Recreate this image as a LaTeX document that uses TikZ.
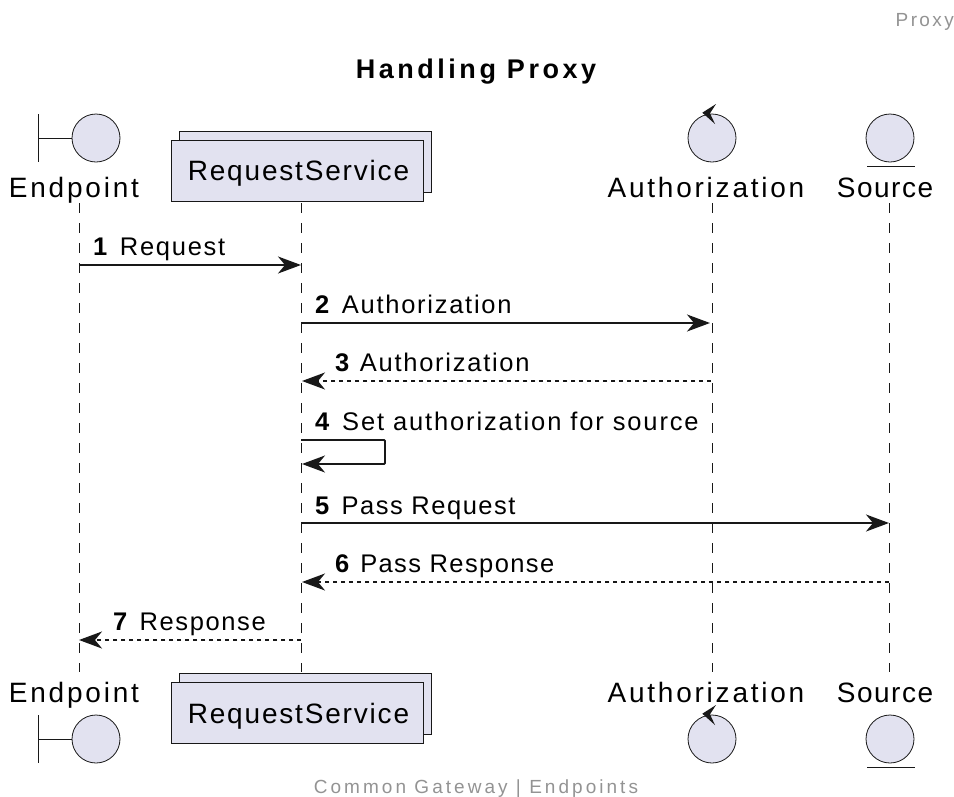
\documentclass[tikz,border=0pt]{standalone}
\usepackage{fontspec}
\setmainfont{Liberation Sans}
\usetikzlibrary{arrows.meta}
\definecolor{partfill}{HTML}{E2E2F0}
\definecolor{partline}{HTML}{181818}
\tikzset{
    headcircle/.style={circle,draw=partline,fill=partfill,line width=0.8pt,minimum size=48pt,inner sep=0pt},
    stackbox/.style={rectangle,draw=partline,fill=partfill,line width=0.8pt,minimum width=252pt,minimum height=61pt,inner sep=0pt},
    partname/.style={anchor=base,inner sep=0pt,font=\fontsize{28}{32}\selectfont\addfontfeature{LetterSpace=#1}},
    msgtext/.style={anchor=base west,inner sep=0pt,font=\fontsize{25.5}{29}\selectfont\addfontfeature{LetterSpace=#1}},
    greytext/.style={inner sep=0pt,text=gray!85,font=\fontsize{19}{22}\selectfont\addfontfeature{LetterSpace=#1}},
    lifeline/.style={partline,line width=0.7pt,dash pattern=on 10pt off 10pt},
    callarrow/.style={partline,line width=1.9pt,-{Stealth[length=23pt,width=17pt,inset=7pt]}},
    backarrow/.style={callarrow,dash pattern=on 4pt off 4pt},
}
\begin{document}
\begin{tikzpicture}[x=1pt,y=-1pt]
        \useasboundingbox (0,0) rectangle (954,796);

        % Texts around the diagram
        \node[greytext=12.5,anchor=base east] (tag) at (954,26) {Proxy};
        \node[anchor=base,inner sep=0pt,font=\fontsize{27}{30}\selectfont\bfseries\addfontfeature{LetterSpace=13}] (title) at (476,78) {Handling Proxy};
        \node[greytext=16,anchor=base] (foot) at (476,793) {Common Gateway | Endpoints};

        % Lifelines
        \coordinate (ep1) at (79,203);
        \coordinate (ep2) at (79,672);
        \coordinate (rs1) at (301,203);
        \coordinate (rs2) at (301,672);
        \coordinate (au1) at (712,203);
        \coordinate (au2) at (712,672);
        \coordinate (so1) at (889,203);
        \coordinate (so2) at (889,672);
        \draw[lifeline] (ep1) -- (ep2);
        \draw[lifeline] (rs1) -- (rs2);
        \draw[lifeline] (au1) -- (au2);
        \draw[lifeline] (so1) -- (so2);

        % Endpoint
        \node[headcircle] (epT) at (96,138) {};
        \coordinate (epTbar) at (38,138);
        \draw[partline,line width=0.8pt] (38,114) -- (38,162);
        \draw[partline,line width=0.8pt] (epTbar) -- (epT);
        \node[partname=10] (epTname) at (74,197) {Endpoint};
        \node[partname=10] (epBname) at (74,702) {Endpoint};
        \node[headcircle] (epB) at (96,739) {};
        \coordinate (epBbar) at (38,739);
        \draw[partline,line width=0.8pt] (38,715) -- (38,763);
        \draw[partline,line width=0.8pt] (epBbar) -- (epB);

        % RequestService
        \node[stackbox] (rsTback) at (305,161.5) {};
        \node[stackbox] (rsT) at (297,170.5) {};
        \node[partname=6.5] (rsTname) at (298.5,180) {RequestService};
        \node[stackbox] (rsBback) at (305,703.5) {};
        \node[stackbox] (rsB) at (297,712.5) {};
        \node[partname=6.5] (rsBname) at (298.5,723) {RequestService};

        % Authorization
        \node[headcircle] (auT) at (712,138) {};
        \fill[partline] (702.3,112.7) -- (716,104) -- (710,113.3) -- (715,124) -- cycle;
        \node[partname=9.9] (auTname) at (706,197) {Authorization};
        \node[partname=9.9] (auBname) at (706,702) {Authorization};
        \node[headcircle] (auB) at (712,739) {};
        \fill[partline] (702.3,713.7) -- (716,705) -- (710,714.3) -- (715,725) -- cycle;

        % Source
        \node[headcircle] (soT) at (890,138) {};
        \draw[partline,line width=1pt] (867,166) -- (915,166);
        \node[partname=5.4] (soTname) at (885,197) {Source};
        \node[partname=5.4] (soBname) at (885,702) {Source};
        \node[headcircle] (soB) at (890,739) {};
        \draw[partline,line width=1pt] (867,767) -- (915,767);

        % Messages
        \coordinate (m1a) at (79,265);
        \coordinate (m1b) at (301,265);
        \draw[callarrow] (m1a) -- (m1b);
        \node[msgtext=6.8] (m1) at (93,255) {\textbf{1}\kern2pt{} Request};

        \coordinate (m2a) at (301,323);
        \coordinate (m2b) at (710,323);
        \draw[callarrow] (m2a) -- (m2b);
        \node[msgtext=6.8] (m2) at (315,313) {\textbf{2}\kern2pt{} Authorization};

        \coordinate (m3a) at (711,381);
        \coordinate (m3b) at (302,381);
        \draw[backarrow] (m3a) -- (m3b);
        \node[msgtext=6.8] (m3) at (335,371) {\textbf{3}\kern0pt{} Authorization};

        \coordinate (m4a) at (301,440);
        \coordinate (m4b) at (385,440);
        \coordinate (m4c) at (385,464);
        \coordinate (m4d) at (302,464);
        \draw[callarrow,rounded corners=1pt] (m4a) -- (m4b) -- (m4c) -- (m4d);
        \node[msgtext=7.3] (m4) at (315,430) {\textbf{4}\kern2pt{} Set authorization for source};

        \coordinate (m5a) at (301,523);
        \coordinate (m5b) at (889,523);
        \draw[callarrow] (m5a) -- (m5b);
        \node[msgtext=6] (m5) at (315,514) {\textbf{5}\kern2pt{} Pass Request};

        \coordinate (m6a) at (889,582);
        \coordinate (m6b) at (302,582);
        \draw[backarrow] (m6a) -- (m6b);
        \node[msgtext=5.5] (m6) at (335,572) {\textbf{6}\kern1pt{} Pass Response};

        \coordinate (m7a) at (301,640);
        \coordinate (m7b) at (79,640);
        \draw[backarrow] (m7a) -- (m7b);
        \node[msgtext=6.3] (m7) at (113,630) {\textbf{7}\kern2pt{} Response};
    \end{tikzpicture}
\end{document}
